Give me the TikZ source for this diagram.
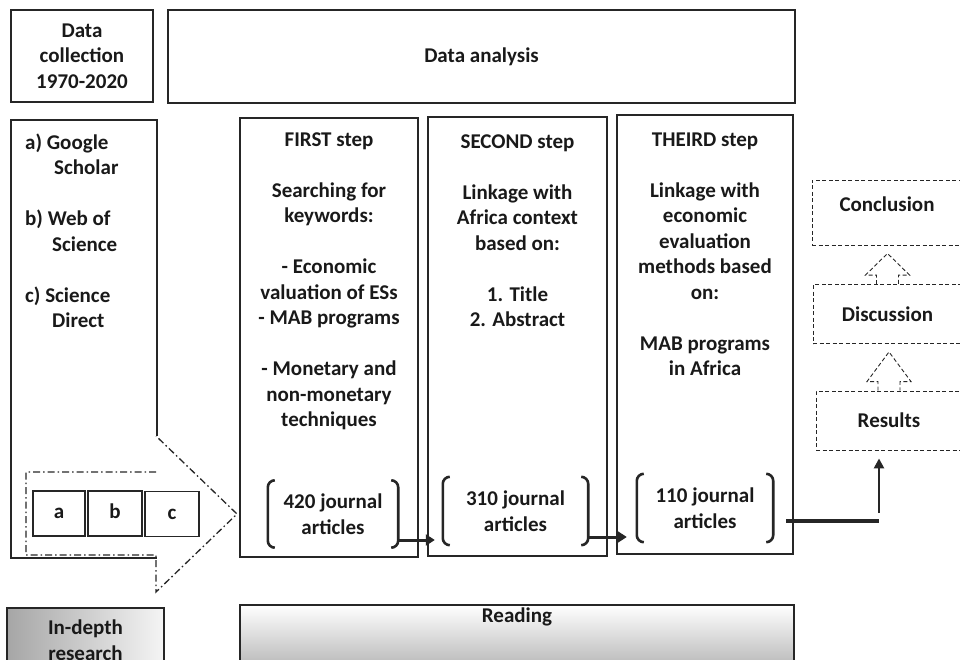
\documentclass[tikz,border=0pt]{standalone}
\usepackage{fontspec}
\setmainfont{Carlito}
\usetikzlibrary{arrows.meta}

\begin{document}
\begin{tikzpicture}[x=1pt,y=-1pt,
	every node/.style={font=\bfseries\fontsize{21}{25.5}\selectfont, text=black!90, align=center, inner sep=0pt},
	box/.style={draw=black!85, line width=1.3pt},
	dbox/.style={draw=black!85, line width=0.9pt, dash pattern=on 4pt off 2.5pt},
	brk/.style={draw=black!85, line width=2.6pt, rounded corners=7pt},
	flow/.style={draw=black!85, line width=3pt, -{Triangle[length=9pt,width=11pt]}}]
	\useasboundingbox (0,0) rectangle (960,660);

	% header row
	\node (DC) at (82,56) [box, minimum width=142, minimum height=92] {Data\\collection\\1970-2020};
	\node (DA) at (481.5,56.5) [box, minimum width=627, minimum height=93] {Data analysis};

	% sources
	\draw [box] (157,436) -- (157,120) -- (11,120) -- (11,558) -- (157,558);
	\node (SRC) at (25,231) [anchor=west, align=left] {a) Google\\\hspace*{29pt}Scholar\\[25.5pt]b) Web of\\\hspace*{27pt}Science\\[25.5pt]c) Science\\\hspace*{27pt}Direct};
	\draw [draw=black!85, line width=1.3pt, dash pattern=on 7pt off 3pt on 1.5pt off 3pt]
		(156,472) -- (26,472) -- (26,555) -- (156,555) -- (156,592) -- (237,514) -- (156,436);
	\node (A) at (59,513.5) [box, minimum width=52, minimum height=45, text height=10pt, text depth=0pt] {a};
	\node (B) at (115,513.5) [box, minimum width=54, minimum height=45, text height=10pt, text depth=0pt] {b};
	\node (C) at (172,514) [box, minimum width=54, minimum height=45, text height=10pt, text depth=0pt] {c};

	% analysis steps
	\node (S1) at (329,337.5) [box, minimum width=178, minimum height=439] {};
	\node (S2) at (517.5,336.5) [box, minimum width=179, minimum height=439] {};
	\node (S3) at (705,334.5) [box, minimum width=176, minimum height=439] {};
	\node (T1) at (329,281.5) [] {FIRST step\\[25.5pt]Searching for\\keywords:\\[25.5pt]- Economic\\valuation of ESs\\- MAB programs\\[25.5pt]- Monetary and\\non-monetary\\techniques};
	\node (T2) at (517.5,230.5) [] {SECOND step\\[25.5pt]Linkage with\\Africa context\\based on:\\[25.5pt]1. Title\\2. Abstract};
	\node (T3) at (705,254.5) [] {THEIRD step\\[25.5pt]Linkage with\\economic\\evaluation\\methods based\\on:\\[25.5pt]MAB programs\\in Africa};

	\node (J1) at (333,514) [minimum width=130, minimum height=67] {420 journal\\articles};
	\node (J2) at (515.5,511) [minimum width=145, minimum height=68] {310 journal\\articles};
	\node (J3) at (705,508) [minimum width=136, minimum height=68] {110 journal\\articles};
	\foreach \j in {J1,J2,J3} {
		\draw [brk] ([xshift=7pt]\j.north west) -- (\j.north west) -- (\j.south west) -- ([xshift=7pt]\j.south west);
		\draw [brk] ([xshift=-7pt]\j.north east) -- (\j.north east) -- (\j.south east) -- ([xshift=-7pt]\j.south east);
	}
	\draw [flow, shorten >=8pt] ([yshift=-26pt]J1.east) -- ([yshift=-26pt]J1.east -| J2.west);
	\draw [flow, shorten >=10pt] ([yshift=-26pt]J2.east) -- ([yshift=-26pt]J2.east -| J3.west);

	% outputs
	\node (R1) at (887,212.5) [dbox, minimum width=150, minimum height=65, text depth=16pt] {Conclusion};
	\node (R2) at (887.5,314) [dbox, minimum width=149, minimum height=59] {Discussion};
	\node (R3) at (889,420.5) [dbox, minimum width=146, minimum height=59] {Results};
	\foreach \lo/\hi in {R2/R1,R3/R2}
		\draw [dbox, line join=miter] ([xshift=-11pt]\lo.north) -- ([xshift=-11pt,yshift=9pt]\lo.north) -- ([xshift=-22pt,yshift=9pt]\lo.north)
			-- ([yshift=-8pt]\hi.south -| \lo.north) -- ([xshift=22pt,yshift=9pt]\lo.north) -- ([xshift=11pt,yshift=9pt]\lo.north) -- ([xshift=11pt]\lo.north);

	\coordinate (K) at (879,521);
	\draw [draw=black!85, line width=4pt] ([xshift=13pt,yshift=-13pt]J3.east) -- (K);
	\draw [draw=black!85, line width=2.5pt, -{Triangle[length=10pt,width=10pt]}] ([yshift=8pt]K) -- ([yshift=-8pt]R3.south -| K);

	% reading
	\node (IR) at (85.5,640) [box, minimum width=157, minimum height=64, left color=gray!70, right color=gray!8] {In-depth\\research};
	\node (RD) at (517,638.5) [box, minimum width=554, minimum height=67, top color=white, bottom color=gray!60] {};
	\node (RDt) at (517,617) [] {Reading};
\end{tikzpicture}
\end{document}
